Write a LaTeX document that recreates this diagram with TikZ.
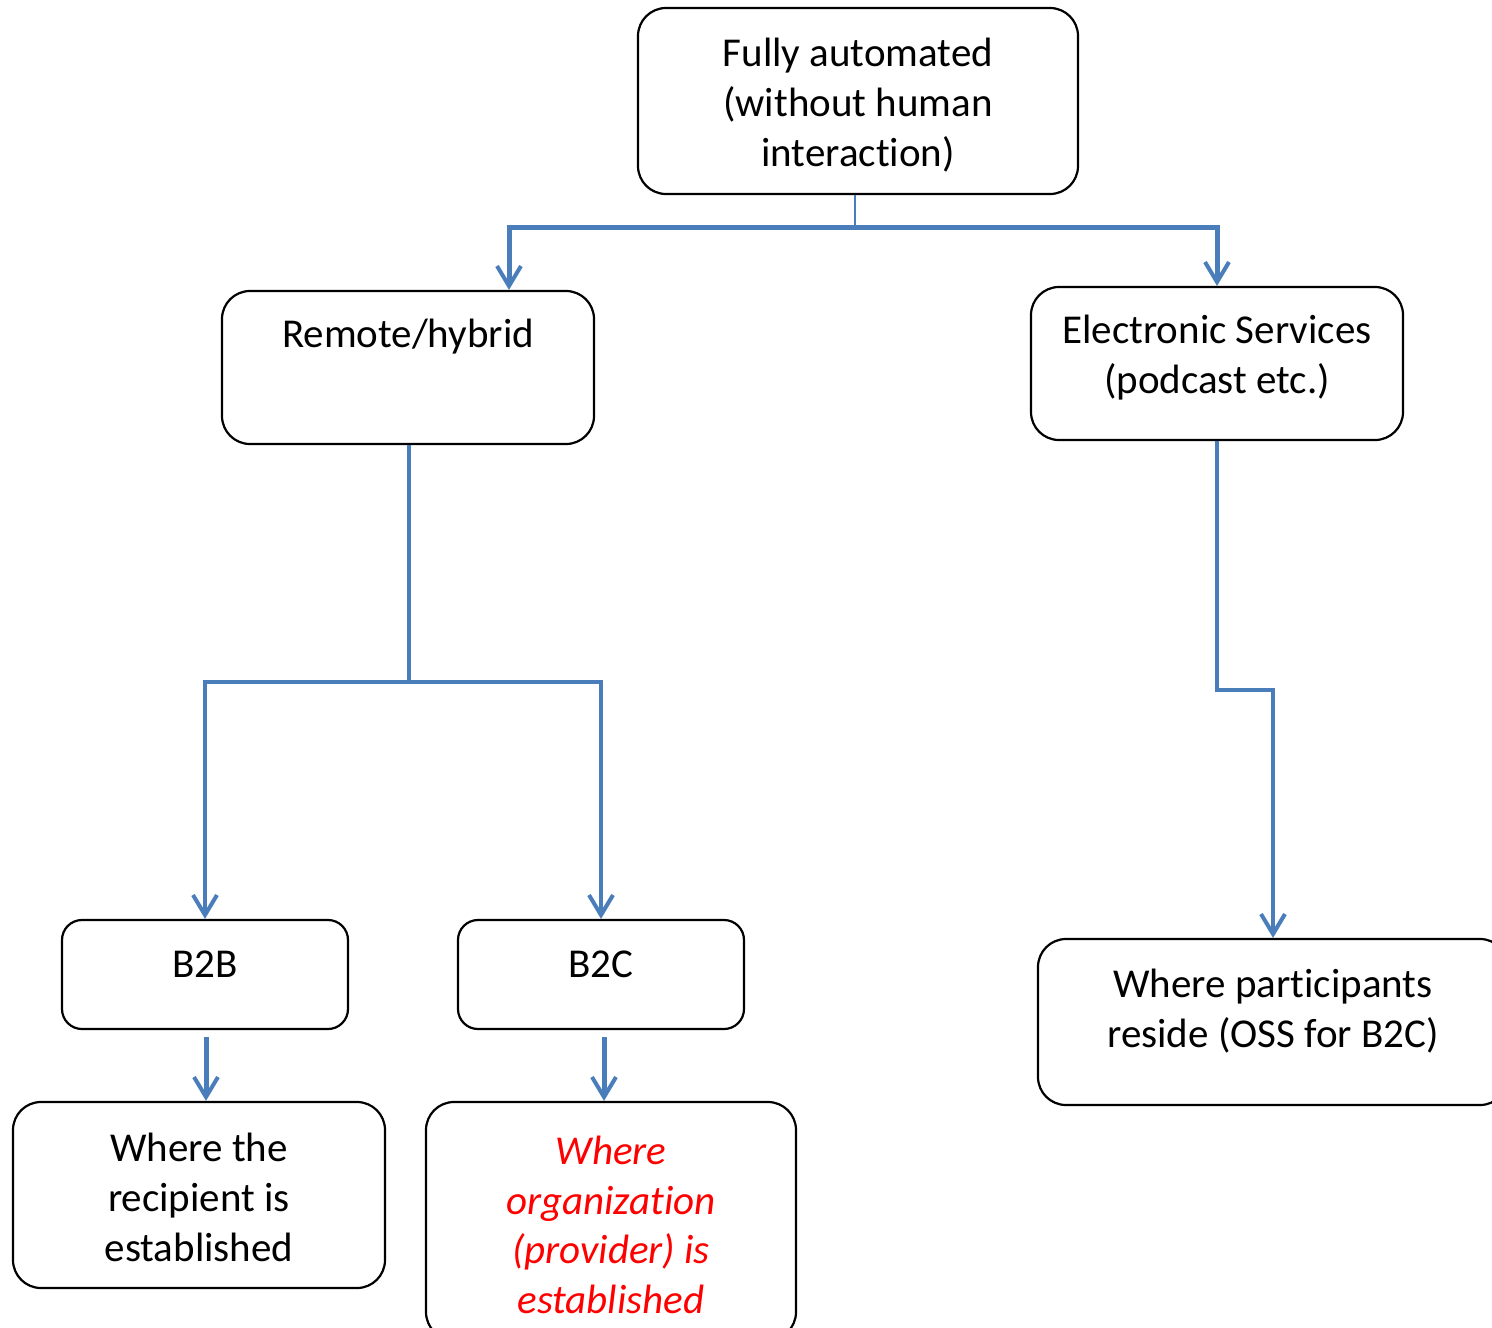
\documentclass[tikz,border=0pt]{standalone}
\usepackage{fontspec}
\setmainfont{Carlito}[Ligatures=NoCommon]
\usetikzlibrary{arrows.meta}
\definecolor{conblue}{RGB}{74,126,187}
\tikzset{
  box/.style={draw=black, line width=2.2pt, rounded corners=28pt, fill=none, inner sep=0pt},
  smallbox/.style={box, rounded corners=20pt},
  txt/.style={align=center, inner sep=0pt, font=\fontsize{41}{50}\selectfont},
  redtxt/.style={txt, text=red, font=\fontsize{41}{49.5}\selectfont\itshape},
  con/.style={draw=conblue, line width=4pt, -{Straight Barb[length=20pt,width=24pt,line width=4pt]}},
  conthin/.style={draw=conblue, line width=2pt},
}
\begin{document}
\begin{tikzpicture}[x=1pt,y=-1pt]
\useasboundingbox (0,0) rectangle (1492,1328);
% boxes
\node[box, minimum width=440pt, minimum height=186pt] (top) at (858,101) {};
\node[box, minimum width=372pt, minimum height=153pt] (remote) at (408,367.5) {};
\node[box, minimum width=372pt, minimum height=153pt] (elec) at (1217,363.5) {};
\node[smallbox, minimum width=286pt, minimum height=109pt] (b2b) at (205,974.5) {};
\node[smallbox, minimum width=286pt, minimum height=109pt] (b2c) at (601,974.5) {};
\node[box, minimum width=470pt, minimum height=166pt] (oss) at (1273,1022) {};
\node[box, minimum width=372pt, minimum height=186pt] (recip) at (199,1195) {};
\node[box, minimum width=370pt, minimum height=238pt] (org) at (611,1221) {};
% texts
\node[txt] (ttop) at (858,105) {Fully automated\\(without human\\interaction)};
\node[txt] (tremote) at (408,337) {Remote/hybrid};
\node[txt] (telec) at (1217,358) {Electronic Services\\(podcast etc.)};
\node[txt] (tb2b) at (205,964) {B2B};
\node[txt] (tb2c) at (601,964) {B2C};
\node[txt] (toss) at (1273,1011) {Where participants\\reside (OSS for B2C)};
\node[txt] (trecip) at (199,1197) {Where the\\recipient is\\established};
\node[redtxt] (torg) at (611,1225) {Where\\organization\\(provider) is\\established};
% junctions
\coordinate (j1) at (855,227);
\coordinate (j2) at (409,682);
\coordinate (j3) at (1217,690);
% connectors
\draw[conthin] (top.south -| j1) -- (j1);
\draw[con, line width=5pt] (j1) -| ([xshift=101pt]remote.north);
\draw[con, line width=5pt] (j1) -| (elec.north);
\draw[conthin, line width=3.5pt] (remote.south -| j2) -- (j2);
\draw[con, line width=3.5pt] (j2) -| (b2b.north);
\draw[con, line width=3.5pt] (j2) -| (b2c.north);
\draw[con] (elec.south) -- (j3) -| (oss.north);
\draw[con, line width=5pt] ([shift={(1pt,-7pt)}]b2b.south) -- ([xshift=7pt]recip.north);
\draw[con, line width=5pt] ([shift={(3pt,-7pt)}]b2c.south) -- ([xshift=-7pt]org.north);
\end{tikzpicture}
\end{document}
